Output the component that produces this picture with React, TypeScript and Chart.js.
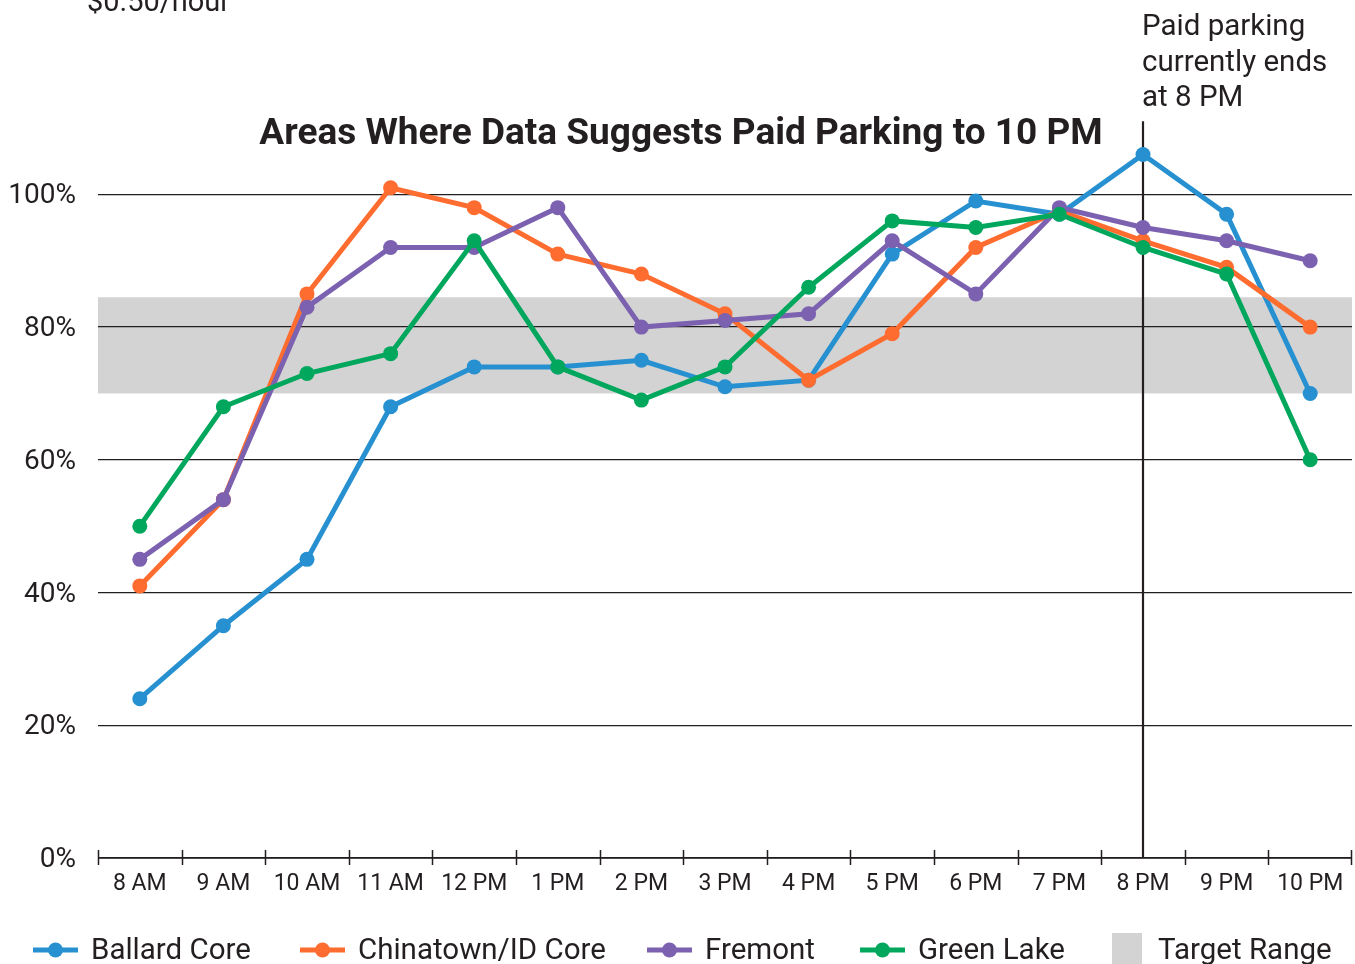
import React, { useEffect, useRef } from 'react';
import { Chart, registerables } from 'chart.js';

Chart.register(...registerables);

// ---------- data ----------
const CATEGORIES = ['8 AM', '9 AM', '10 AM', '11 AM', '12 PM', '1 PM', '2 PM', '3 PM', '4 PM', '5 PM', '6 PM', '7 PM', '8 PM', '9 PM', '10 PM'];
const BALLARD_CORE = [24, 35, 45, 68, 74, 74, 75, 71, 72, 91, 99, 97, 106, 97, 70];
const CHINATOWN_ID_CORE = [41, 54, 85, 101, 98, 91, 88, 82, 72, 79, 92, 97.5, 93, 89, 80];
const FREMONT = [45, 54, 83, 92, 92, 98, 80, 81, 82, 93, 85, 98, 95, 93, 90];
const GREEN_LAKE = [50, 68, 73, 76, 93, 74, 69, 74, 86, 96, 95, 97, 92, 88, 60];
const TARGET_RANGE = [70, 84.5];
const Y_TICKS = [0, 20, 40, 60, 80, 100];
const PAID_END_LABEL = '8 PM';
const TITLE = 'Areas Where Data Suggests Paid Parking to 10 PM';
const NOTE_LINES = ['Paid parking', 'currently ends', 'at 8 PM'];
const TOP_CUT_TEXT = '$0.50/hour';
const TARGET_LABEL = 'Target Range';

const SERIES = [
  { label: 'Ballard Core', data: BALLARD_CORE, color: '#2690d0', order: 4 },
  { label: 'Chinatown/ID Core', data: CHINATOWN_ID_CORE, color: '#ff6c2f', order: 3 },
  { label: 'Fremont', data: FREMONT, color: '#7b61b0', order: 2 },
  { label: 'Green Lake', data: GREEN_LAKE, color: '#00a75d', order: 1 },
];

// ---------- styles / layout ----------
const W = 1355;
const H = 964;
const FONT = 'Roboto, "DejaVu Sans", sans-serif';
const INK = '#231f20';
const BAND = '#d3d3d3';
const LEGEND_X = [33, 300, 647, 860, 1112];

export default function App() {
  const ref = useRef<HTMLCanvasElement | null>(null);

  useEffect(() => {
    const canvas = ref.current;
    if (!canvas) return;

    const decor = {
      id: 'decor',
      beforeDraw(chart: any) {
        const { ctx, chartArea, scales } = chart;
        const y = scales.y;
        ctx.save();
        ctx.fillStyle = '#ffffff';
        ctx.fillRect(0, 0, W, H);
        const top = y.getPixelForValue(TARGET_RANGE[1]);
        const bot = y.getPixelForValue(TARGET_RANGE[0]);
        ctx.fillStyle = BAND;
        ctx.fillRect(chartArea.left, top, chartArea.right - chartArea.left, bot - top);
        ctx.restore();
      },
      beforeDatasetsDraw(chart: any) {
        const { ctx, chartArea, scales } = chart;
        const x = scales.x;
        const y = scales.y;
        ctx.save();
        const base = y.getPixelForValue(0);
        ctx.strokeStyle = INK;
        ctx.lineWidth = 1.5;
        ctx.beginPath();
        ctx.moveTo(chartArea.left, base);
        ctx.lineTo(chartArea.right, base);
        const n = CATEGORIES.length;
        const step = (chartArea.right - chartArea.left) / n;
        for (let i = 0; i <= n; i++) {
          const px = Math.min(Math.round(chartArea.left + i * step), chartArea.right - 1) + 0.5;
          ctx.moveTo(px, base - 8);
          ctx.lineTo(px, base + 7);
        }
        ctx.stroke();
        const vx = x.getPixelForValue(CATEGORIES.indexOf(PAID_END_LABEL));
        ctx.lineWidth = 2.2;
        ctx.beginPath();
        ctx.moveTo(vx, y.getPixelForValue(111));
        ctx.lineTo(vx, base);
        ctx.stroke();
        ctx.restore();
      },
      afterDraw(chart: any) {
        const { ctx, scales } = chart;
        const x = scales.x;
        ctx.save();
        ctx.fillStyle = INK;
        ctx.font = `29px ${FONT}`;
        ctx.textAlign = 'left';
        ctx.textBaseline = 'alphabetic';
        ctx.fillText(TOP_CUT_TEXT, 87, 11);
        ctx.font = `bold 37px ${FONT}`;
        ctx.textAlign = 'center';
        ctx.textBaseline = 'middle';
        ctx.fillText(TITLE, 681, 135);
        const vx = x.getPixelForValue(CATEGORIES.indexOf(PAID_END_LABEL));
        ctx.font = `29.5px ${FONT}`;
        ctx.textAlign = 'left';
        ctx.textBaseline = 'alphabetic';
        NOTE_LINES.forEach((t, i) => ctx.fillText(t, vx - 1, 35 + i * 35.5));
        const ly = 950;
        ctx.font = `29.5px ${FONT}`;
        ctx.textBaseline = 'middle';
        SERIES.forEach((s, i) => {
          const cx = LEGEND_X[i];
          ctx.strokeStyle = s.color;
          ctx.lineWidth = 5;
          ctx.beginPath();
          ctx.moveTo(cx, ly);
          ctx.lineTo(cx + 45, ly);
          ctx.stroke();
          ctx.fillStyle = s.color;
          ctx.beginPath();
          ctx.arc(cx + 22.5, ly, 7.5, 0, Math.PI * 2);
          ctx.fill();
          ctx.fillStyle = INK;
          ctx.fillText(s.label, cx + 58, ly + 2);
        });
        const sx = LEGEND_X[SERIES.length];
        ctx.fillStyle = BAND;
        ctx.fillRect(sx, 933, 30, 40);
        ctx.fillStyle = INK;
        ctx.fillText(TARGET_LABEL, sx + 46, ly + 2);
        ctx.restore();
      },
    };

    const chart = new Chart(canvas, {
      type: 'line',
      data: {
        labels: CATEGORIES,
        datasets: SERIES.map((s) => ({
          label: s.label,
          data: s.data,
          order: s.order,
          borderColor: s.color,
          backgroundColor: s.color,
          pointBackgroundColor: s.color,
          pointBorderColor: s.color,
          pointBorderWidth: 0,
          pointRadius: 7.5,
          pointHoverRadius: 7.5,
          borderWidth: 5,
          tension: 0,
          fill: false,
          clip: false,
        })),
      },
      options: {
        responsive: false,
        animation: false,
        devicePixelRatio: 1,
        layout: { autoPadding: false, padding: { top: 128, right: 3, left: 0, bottom: 0 } },
        plugins: {
          legend: { display: false },
          title: { display: false },
          tooltip: { enabled: false },
        },
        events: [],
        scales: {
          x: {
            type: 'category',
            offset: true,
            grid: { display: false, drawTicks: false },
            border: { display: false },
            ticks: {
              color: INK,
              font: { family: FONT, size: 23, lineHeight: 1.2 },
              padding: 12,
              maxRotation: 0,
              autoSkip: false,
            },
            afterFit: (s: any) => {
              s.height = 106;
              s.paddingLeft = 0;
              s.paddingRight = 0;
            },
          },
          y: {
            type: 'linear',
            min: 0,
            max: 110,
            grid: { color: INK, lineWidth: 1.2, drawTicks: false },
            border: { display: false },
            ticks: {
              color: INK,
              font: { family: FONT, size: 28 },
              padding: 22,
              labelOffset: 2,
              callback: (v: any) => `${v}%`,
            },
            afterBuildTicks: (s: any) => {
              s.ticks = Y_TICKS.map((v) => ({ value: v }));
            },
            afterFit: (s: any) => {
              s.width = 98;
              s.paddingTop = 0;
              s.paddingBottom = 0;
            },
          },
        },
      } as any,
      plugins: [decor],
    });

    return () => chart.destroy();
  }, []);

  return (
    <div style={{ position: 'fixed', left: 0, top: 0, width: W, height: H, background: '#fff' }}>
      <canvas ref={ref} width={W} height={H} style={{ display: 'block', width: W, height: H }} />
    </div>
  );
}
